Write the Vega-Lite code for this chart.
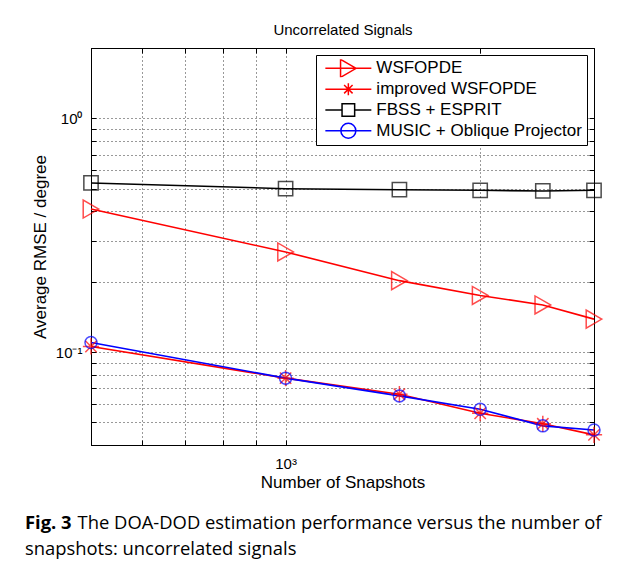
{
  "$schema": "https://vega.github.io/schema/vega-lite/v6.json",
  "width": 503,
  "height": 397,
  "autosize": {"type": "none"},
  "padding": {"left": 91, "top": 48, "right": 32, "bottom": 123},
  "background": "white",
  "config": {"view": {"stroke": "black", "strokeWidth": 1}, "font": "Liberation Sans"},
  "title": {
    "text": "Fig. 3",
    "subtitle": ["\u200b\u00a0\u00a0\u00a0\u00a0\u00a0\u00a0\u00a0\u00a0\u00a0\u00a0\u00a0The DOA-DOD estimation performance versus the number of", "snapshots: uncorrelated signals"],
    "orient": "bottom",
    "anchor": "start",
    "frame": "group",
    "dx": -66,
    "offset": 24,
    "font": "Open Sans",
    "fontSize": 18.4,
    "fontWeight": "bold",
    "color": "black",
    "subtitleFont": "Open Sans",
    "subtitleFontSize": 18.4,
    "subtitleFontWeight": "normal",
    "subtitleColor": "black",
    "subtitlePadding": -18.4,
    "subtitleLineHeight": 26
  },
  "data": {
    "values": [
      {"snapshots": 500, "rmse": 0.409, "method": "WSFOPDE"},
      {"snapshots": 1000, "rmse": 0.268, "method": "WSFOPDE"},
      {"snapshots": 1500, "rmse": 0.202, "method": "WSFOPDE"},
      {"snapshots": 2000, "rmse": 0.1746, "method": "WSFOPDE"},
      {"snapshots": 2500, "rmse": 0.159, "method": "WSFOPDE"},
      {"snapshots": 3000, "rmse": 0.1383, "method": "WSFOPDE"},
      {"snapshots": 500, "rmse": 0.1056, "method": "improved WSFOPDE"},
      {"snapshots": 1000, "rmse": 0.0773, "method": "improved WSFOPDE"},
      {"snapshots": 1500, "rmse": 0.066, "method": "improved WSFOPDE"},
      {"snapshots": 2000, "rmse": 0.0547, "method": "improved WSFOPDE"},
      {"snapshots": 2500, "rmse": 0.0493, "method": "improved WSFOPDE"},
      {"snapshots": 3000, "rmse": 0.0442, "method": "improved WSFOPDE"},
      {"snapshots": 500, "rmse": 0.529, "method": "FBSS + ESPRIT"},
      {"snapshots": 1000, "rmse": 0.5, "method": "FBSS + ESPRIT"},
      {"snapshots": 1500, "rmse": 0.495, "method": "FBSS + ESPRIT"},
      {"snapshots": 2000, "rmse": 0.492, "method": "FBSS + ESPRIT"},
      {"snapshots": 2500, "rmse": 0.489, "method": "FBSS + ESPRIT"},
      {"snapshots": 3000, "rmse": 0.492, "method": "FBSS + ESPRIT"},
      {"snapshots": 500, "rmse": 0.1099, "method": "MUSIC + Oblique Projector"},
      {"snapshots": 1000, "rmse": 0.0773, "method": "MUSIC + Oblique Projector"},
      {"snapshots": 1500, "rmse": 0.0649, "method": "MUSIC + Oblique Projector"},
      {"snapshots": 2000, "rmse": 0.0569, "method": "MUSIC + Oblique Projector"},
      {"snapshots": 2500, "rmse": 0.0483, "method": "MUSIC + Oblique Projector"},
      {"snapshots": 3000, "rmse": 0.0464, "method": "MUSIC + Oblique Projector"}
    ]
  },
  "layer": [
    {
      "mark": {"type": "line", "strokeWidth": 1.6, "clip": false},
      "encoding": {
        "x": {
          "field": "snapshots", "type": "quantitative",
          "scale": {"type": "log", "domain": [500, 3000], "nice": false},
          "axis": {
            "orient": "bottom",
            "values": [500, 600, 700, 800, 900, 1000, 2000, 3000],
            "labelExpr": "datum.value == 1000 ? '10³' : ''",
            "labelOverlap": false, "labelFlush": false,
            "grid": true, "gridDash": [1, 3], "gridColor": "#000", "gridOpacity": 0.8, "gridWidth": 1,
            "ticks": true, "tickSize": -5, "tickColor": "black", "tickWidth": 1,
            "domain": false,
            "labelFont": "Liberation Sans", "labelFontSize": 15, "labelColor": "black", "labelPadding": 16,
            "title": "Number of Snapshots", "titleFont": "Liberation Sans", "titleFontSize": 17, "titleFontWeight": "normal", "titleColor": "black", "titlePadding": 3
          }
        },
        "y": {
          "field": "rmse", "type": "quantitative",
          "scale": {"type": "log", "domain": [0.04, 2], "nice": false},
          "axis": {
            "orient": "left",
            "values": [0.04, 0.05, 0.06, 0.07, 0.08, 0.09, 0.1, 0.2, 0.3, 0.4, 0.5, 0.6, 0.7, 0.8, 0.9, 1, 2],
            "labelExpr": "abs(datum.value - 1) < 1e-9 ? '10⁰' : (abs(datum.value - 0.1) < 1e-9 ? '10⁻¹' : '')",
            "labelOverlap": false, "labelFlush": false,
            "grid": true, "gridDash": [1, 3], "gridColor": "#000", "gridOpacity": 0.8, "gridWidth": 1,
            "ticks": true, "tickSize": -5, "tickColor": "black", "tickWidth": 1,
            "domain": false,
            "labelFont": "Liberation Sans", "labelFontSize": 15, "labelColor": "black", "labelPadding": 14,
            "title": "Average RMSE / degree", "titleFont": "Liberation Sans", "titleFontSize": 17, "titleFontWeight": "normal", "titleColor": "black", "titlePadding": 6
          }
        },
        "color": {
          "field": "method", "type": "nominal",
          "scale": {"domain": ["WSFOPDE", "improved WSFOPDE", "FBSS + ESPRIT", "MUSIC + Oblique Projector"], "range": ["#ff0000", "#ff0000", "#000000", "#0000ff"]},
          "legend": null
        }
      }
    },
    {
      "mark": {"type": "point", "filled": false, "strokeWidth": 1.5, "clip": false},
      "encoding": {
        "x": {
          "field": "snapshots", "type": "quantitative",
          "scale": {"type": "log", "domain": [500, 3000], "nice": false},
          "axis": {
            "orient": "top",
            "values": [500, 600, 700, 800, 900, 1000, 2000, 3000],
            "labels": false, "grid": false, "domain": false,
            "ticks": true, "tickSize": -5, "tickColor": "black",
            "title": "Uncorrelated Signals", "titleFont": "Liberation Sans", "titleFontSize": 15, "titleFontWeight": "normal", "titleColor": "black", "titlePadding": 10
          }
        },
        "y": {
          "field": "rmse", "type": "quantitative",
          "scale": {"type": "log", "domain": [0.04, 2], "nice": false},
          "axis": {
            "orient": "right",
            "values": [0.04, 0.05, 0.06, 0.07, 0.08, 0.09, 0.1, 0.2, 0.3, 0.4, 0.5, 0.6, 0.7, 0.8, 0.9, 1, 2],
            "labels": false, "grid": false, "domain": false,
            "ticks": true, "tickSize": -5, "tickColor": "black",
            "title": null
          }
        },
        "color": {
          "field": "method", "type": "nominal",
          "scale": {"domain": ["WSFOPDE", "improved WSFOPDE", "FBSS + ESPRIT", "MUSIC + Oblique Projector"], "range": ["#ff0000", "#ff0000", "#000000", "#0000ff"]},
          "legend": null
        },
        "shape": {
          "field": "method", "type": "nominal",
          "scale": {"domain": ["WSFOPDE", "improved WSFOPDE", "FBSS + ESPRIT", "MUSIC + Oblique Projector"], "range": ["triangle-right", "M-1,0H1M0,-1V1M-0.7,-0.7L0.7,0.7M-0.7,0.7L0.7,-0.7", "square", "circle"]},
          "legend": null
        },
        "size": {
          "field": "method", "type": "nominal",
          "scale": {"domain": ["WSFOPDE", "improved WSFOPDE", "FBSS + ESPRIT", "MUSIC + Oblique Projector"], "range": [324, 144, 160, 225]},
          "legend": null
        }
      }
    },
    {
      "mark": {"type": "point", "filled": false, "strokeWidth": 1.5, "opacity": 0, "clip": false},
      "encoding": {
        "x": {"field": "snapshots", "type": "quantitative", "scale": {"type": "log", "domain": [500, 3000], "nice": false}, "axis": null},
        "y": {"field": "rmse", "type": "quantitative", "scale": {"type": "log", "domain": [0.04, 2], "nice": false}, "axis": null},
        "color": {
          "field": "method", "type": "nominal",
          "scale": {"domain": ["WSFOPDE", "improved WSFOPDE", "FBSS + ESPRIT", "MUSIC + Oblique Projector"], "range": ["#ff0000", "#ff0000", "#000000", "#0000ff"]},
          "legend": {
            "title": null, "orient": "top-right", "offset": 7,
            "strokeColor": "black", "fillColor": "white", "padding": 4.35, "cornerRadius": 0,
            "labelFont": "Liberation Sans", "labelFontSize": 17, "labelColor": "black", "labelOffset": 4, "labelLimit": 400,
            "symbolSize": 2116, "symbolStrokeWidth": 1.5, "symbolOffset": 4, "symbolOpacity": 1,
            "clipHeight": 18, "rowPadding": 2.8
          }
        },
        "shape": {
          "field": "method", "type": "nominal",
          "scale": {"domain": ["WSFOPDE", "improved WSFOPDE", "FBSS + ESPRIT", "MUSIC + Oblique Projector"], "range": ["M-1,0H1M0.339,0L-0.339,-0.391L-0.339,0.391Z", "M-1,0H1M0,-0.26V0.26M-0.184,-0.184L0.184,0.184M-0.184,0.184L0.184,-0.184", "M-1,0H-0.274M0.274,0H1M-0.274,-0.274H0.274V0.274H-0.274Z", "M-1,0H1M0.326,0A0.326,0.326,0,1,1,-0.326,0A0.326,0.326,0,1,1,0.326,0Z"]},
          "legend": {
            "title": null, "orient": "top-right", "offset": 7,
            "strokeColor": "black", "fillColor": "white", "padding": 4.35, "cornerRadius": 0,
            "labelFont": "Liberation Sans", "labelFontSize": 17, "labelColor": "black", "labelOffset": 4, "labelLimit": 400,
            "symbolSize": 2116, "symbolStrokeWidth": 1.5, "symbolOffset": 4, "symbolOpacity": 1,
            "clipHeight": 18, "rowPadding": 2.8
          }
        }
      }
    }
  ],
  "resolve": {"axis": {"x": "independent", "y": "independent"}, "scale": {"shape": "independent", "color": "independent"}}
}
